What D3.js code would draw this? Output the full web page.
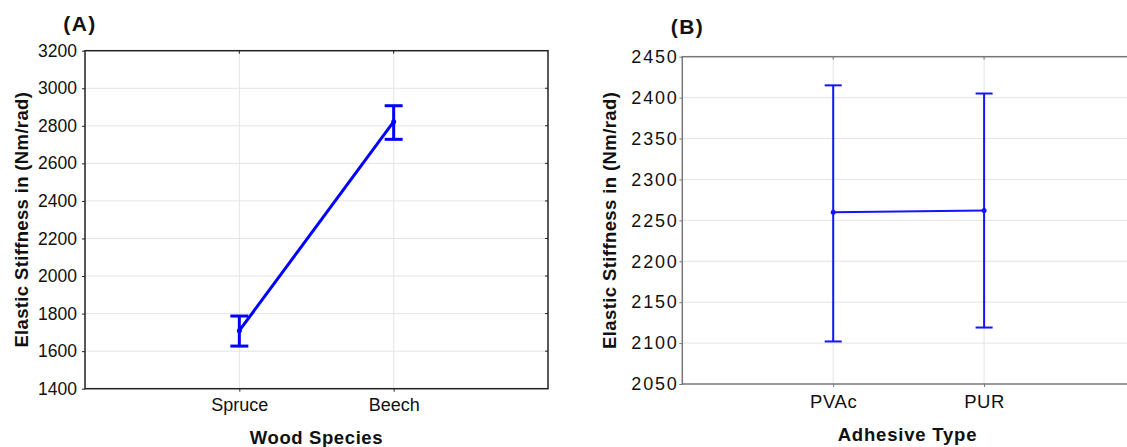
<!DOCTYPE html>
<html>
<head>
<meta charset="utf-8">
<script src="https://cdn.jsdelivr.net/npm/d3@7/dist/d3.min.js"></script>
<style>
  html, body { margin: 0; padding: 0; background: #fff; }
  svg { display: block; }
  text { font-family: "Liberation Sans", Arial, sans-serif; fill: #111; }
</style>
</head>
<body>
<svg id="chart" width="1127" height="447"></svg>
<script>
// ---- Data ----
const woodSpecies = ["Spruce", "Beech"];
const woodMean  = [1709, 2822];
const woodUpper = [1787, 2907];
const woodLower = [1627, 2728];
const woodTicks = [1400, 1600, 1800, 2000, 2200, 2400, 2600, 2800, 3000, 3200];

const adhesiveTypes = ["PVAc", "PUR"];
const adhMean  = [2260, 2262];
const adhUpper = [2415, 2405];
const adhLower = [2102, 2119];
const adhTicks = [2050, 2100, 2150, 2200, 2250, 2300, 2350, 2400, 2450];

const yTitle = "Elastic Stiffness in (Nm/rad)";

const svg = d3.select("#chart");

function panel(cfg) {
  const g = svg.append("g");
  const x = d3.scalePoint().domain(cfg.cats).range([cfg.left, cfg.right]).padding(1);
  const y = d3.scaleLinear().domain([cfg.ticks[0], cfg.ticks[cfg.ticks.length - 1]]).range([cfg.bottom, cfg.top]);

  // grid lines
  g.append("g").selectAll("line").data(cfg.ticks.slice(1, -1)).join("line")
    .attr("x1", cfg.left).attr("x2", cfg.right)
    .attr("y1", d => y(d)).attr("y2", d => y(d))
    .attr("stroke", "#e4e4e4").attr("stroke-width", 1);
  g.append("g").selectAll("line").data(cfg.cats).join("line")
    .attr("x1", d => x(d)).attr("x2", d => x(d))
    .attr("y1", cfg.top).attr("y2", cfg.bottom)
    .attr("stroke", "#e4e4e4").attr("stroke-width", 1);

  // y axis labels + small ticks
  const yAxis = d3.axisLeft(y).tickValues(cfg.ticks).tickSize(3).tickSizeOuter(0)
    .tickPadding(cfg.yPad).tickFormat(d3.format("d"));
  const ya = g.append("g").attr("transform", `translate(${cfg.left},0)`).call(yAxis);
  ya.select(".domain").remove();
  ya.selectAll(".tick line").attr("stroke", cfg.frame).attr("stroke-width", 1);
  ya.selectAll(".tick text").attr("font-size", cfg.yFont).attr("fill", "#111")
    .attr("letter-spacing", cfg.yLS).attr("font-family", '"Liberation Sans", Arial, sans-serif');

  // inner ticks on right / top
  g.append("g").selectAll("line").data(cfg.ticks.slice(1, -1)).join("line")
    .attr("x1", cfg.right - 3).attr("x2", cfg.right)
    .attr("y1", d => y(d)).attr("y2", d => y(d))
    .attr("stroke", cfg.frame).attr("stroke-width", 1);
  g.append("g").selectAll("line").data(cfg.cats).join("line")
    .attr("x1", d => x(d)).attr("x2", d => x(d))
    .attr("y1", cfg.top).attr("y2", cfg.top + 3)
    .attr("stroke", cfg.frame).attr("stroke-width", 1);

  // x axis
  const xAxis = d3.axisBottom(x).tickSize(3).tickSizeOuter(0).tickPadding(cfg.xPad);
  const xa = g.append("g").attr("transform", `translate(0,${cfg.bottom})`).call(xAxis);
  xa.select(".domain").remove();
  xa.selectAll(".tick line").attr("stroke", cfg.frame).attr("stroke-width", 1);
  xa.selectAll(".tick text").attr("font-size", cfg.xFont).attr("fill", "#111")
    .attr("letter-spacing", cfg.xLS).attr("font-family", '"Liberation Sans", Arial, sans-serif');

  // frame
  g.append("rect").attr("x", cfg.left).attr("y", cfg.top)
    .attr("width", cfg.right - cfg.left).attr("height", cfg.bottom - cfg.top)
    .attr("fill", "none").attr("stroke", cfg.frame).attr("stroke-width", 1.5);

  // data
  const pts = cfg.cats.map((c, i) => ({ c, m: cfg.mean[i], u: cfg.upper[i], l: cfg.lower[i] }));
  const line = d3.line().x(d => x(d.c)).y(d => y(d.m));
  g.append("path").datum(pts).attr("d", line)
    .attr("fill", "none").attr("stroke", cfg.color).attr("stroke-width", cfg.lw);
  const eb = g.append("g").selectAll("g").data(pts).join("g")
    .attr("stroke", cfg.color).attr("stroke-width", cfg.lw);
  eb.append("line").attr("x1", d => x(d.c)).attr("x2", d => x(d.c))
    .attr("y1", d => y(d.u)).attr("y2", d => y(d.l));
  eb.append("line").attr("x1", d => x(d.c) - cfg.cap).attr("x2", d => x(d.c) + cfg.cap)
    .attr("y1", d => y(d.u)).attr("y2", d => y(d.u));
  eb.append("line").attr("x1", d => x(d.c) - cfg.cap).attr("x2", d => x(d.c) + cfg.cap)
    .attr("y1", d => y(d.l)).attr("y2", d => y(d.l));
  g.append("g").selectAll("circle").data(pts).join("circle")
    .attr("cx", d => x(d.c)).attr("cy", d => y(d.m)).attr("r", 2.5)
    .attr("fill", cfg.color);

  // titles
  g.append("text").attr("x", cfg.xTitleX).attr("y", cfg.xTitleY)
    .attr("text-anchor", "middle").attr("font-weight", "bold")
    .attr("font-size", cfg.titleFont).attr("letter-spacing", cfg.titleLS)
    .text(cfg.xTitle);
  g.append("text")
    .attr("transform", `translate(${cfg.yTitleX},${(cfg.top + cfg.bottom) / 2}) rotate(-90)`)
    .attr("text-anchor", "middle").attr("font-weight", "bold")
    .attr("font-size", cfg.titleFont).attr("letter-spacing", cfg.yTitleLS)
    .text(yTitle);
  g.append("text").attr("x", cfg.labelX).attr("y", cfg.labelY)
    .attr("text-anchor", "middle").attr("font-weight", "bold")
    .attr("font-size", 21).attr("letter-spacing", 1.5)
    .text(cfg.label);
}

panel({
  cats: woodSpecies, mean: woodMean, upper: woodUpper, lower: woodLower, ticks: woodTicks,
  left: 85, right: 548, top: 50.7, bottom: 388.7,
  frame: "#222", color: "#0000ff", lw: 3, cap: 9,
  yFont: 17.5, yLS: 0, yPad: 5, xFont: 18, xLS: 0, xPad: 7,
  titleFont: 18.5, titleLS: 0.6, yTitleLS: 0.35,
  xTitle: "Wood Species", xTitleX: 316.5, xTitleY: 444,
  yTitleX: 27.5, label: "(A)", labelX: 80, labelY: 30.5
});

panel({
  cats: adhesiveTypes, mean: adhMean, upper: adhUpper, lower: adhLower, ticks: adhTicks,
  left: 682.3, right: 1135, top: 56.7, bottom: 384,
  frame: "#777", color: "#1414ff", lw: 2, cap: 8.5,
  yFont: 18, yLS: 1.8, yPad: 0.7, xFont: 18.5, xLS: 0.6, xPad: 7.5,
  titleFont: 18.5, titleLS: 0.8, yTitleLS: 0.4,
  xTitle: "Adhesive Type", xTitleX: 907.5, xTitleY: 441,
  yTitleX: 616, label: "(B)", labelX: 687.5, labelY: 34
});
</script>
</body>
</html>
